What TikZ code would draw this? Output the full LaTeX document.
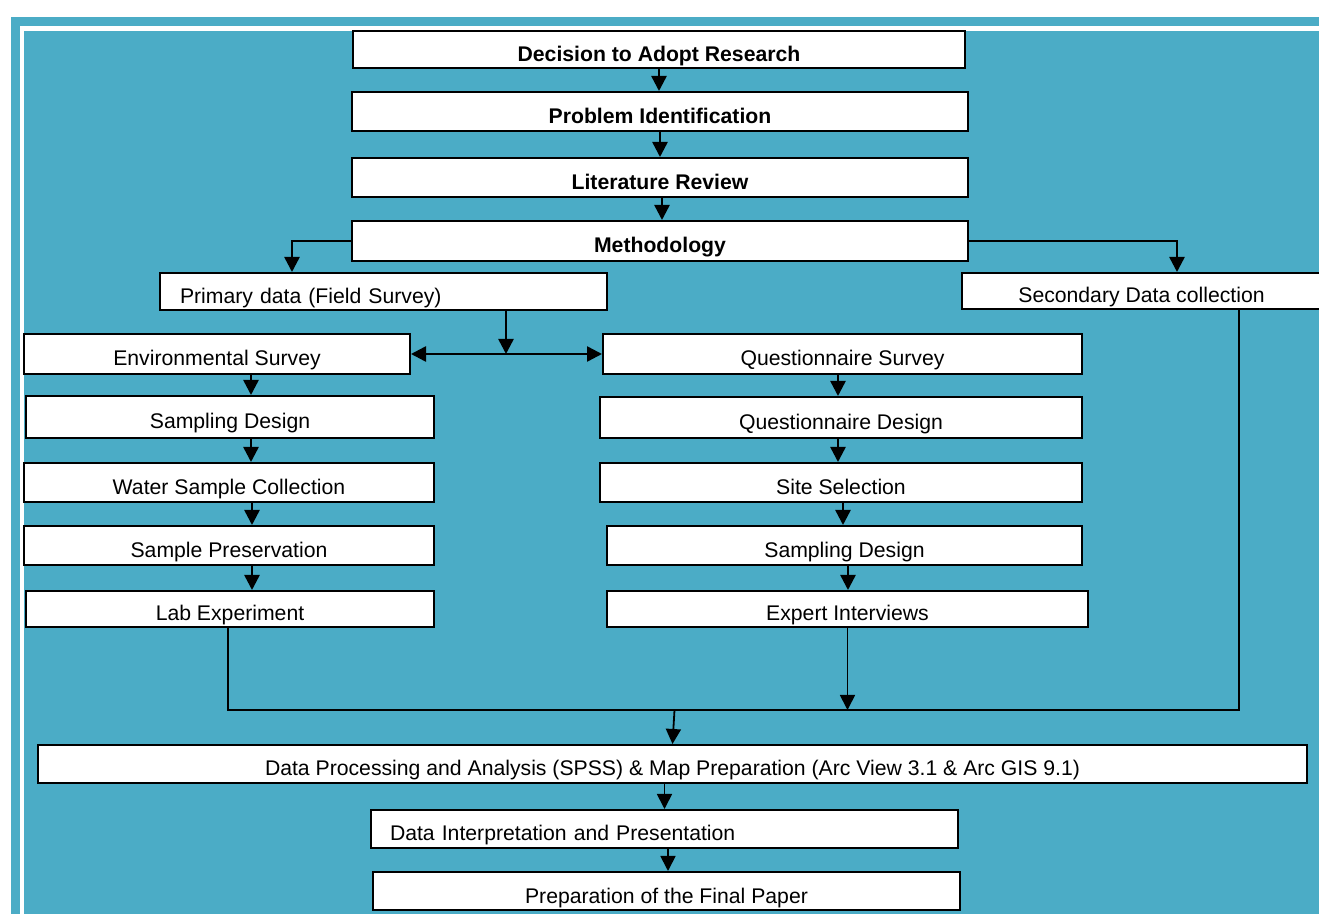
\documentclass[tikz,border=0pt]{standalone}
\usepackage{fontspec}
\setmainfont{Liberation Sans}
\usepackage{tikz}
\usetikzlibrary{arrows.meta}
\definecolor{aqua}{RGB}{75,172,198}

\begin{document}
\begin{tikzpicture}[x=0.5pt,y=-0.5pt,
  box/.style={draw,fill=white,line width=1pt,inner sep=0pt,
    text height=12.5pt,text depth=0.5pt,
    font=\fontsize{10.6pt}{12.7pt}\selectfont},
  bbox/.style={box,font=\fontsize{10.6pt}{12.7pt}\selectfont\bfseries},
  arr/.style={-{Triangle[length=7.5pt,width=7.5pt]},line width=1.25pt},
  ln/.style={line width=0.8pt}]
\useasboundingbox (0,0) rectangle (1319,914);
\fill[white] (0,0) rectangle (1319,914);
\fill[aqua] (11,17) rectangle (1330,930);
\fill[white] (19.5,26) rectangle (1330,930);
\fill[aqua] (24,31) rectangle (1330,930);

\node [bbox,minimum width=306pt,minimum height=18.5pt] (dec) at (659,49.5) {Decision to Adopt Research};
\node [bbox,minimum width=308pt,minimum height=19.5pt] (prob) at (660,111.5) {Problem Identification};
\node [bbox,minimum width=308pt,minimum height=19.5pt] (lit) at (660,177.5) {Literature Review};
\node [bbox,minimum width=308pt,minimum height=20pt] (meth) at (660,241) {Methodology};
\node [box,inner xsep=10pt,text width=203.5pt,align=left,minimum height=18.5pt] (prim) at (383.5,291.5) {Primary data (Field Survey)};
\node [box,minimum width=179.5pt,minimum height=18pt] (sec) at (1141.5,291) {Secondary Data collection};

\node [box,minimum width=193pt,minimum height=20pt] (env) at (217,354) {Environmental Survey};
\node [box,minimum width=204pt,minimum height=21pt] (sdl) at (230,417) {Sampling Design};
\node [box,minimum width=205pt,minimum height=19.5pt] (wat) at (229,482.5) {Water Sample Collection};
\node [box,minimum width=205pt,minimum height=19.5pt] (pres) at (229,545.5) {Sample Preservation};
\node [box,minimum width=204pt,minimum height=18pt] (lab) at (230,609) {Lab Experiment};

\node [box,minimum width=239.5pt,minimum height=20pt] (qs) at (842.5,354) {Questionnaire Survey};
\node [box,minimum width=241pt,minimum height=20.5pt] (qd) at (841,417.5) {Questionnaire Design};
\node [box,minimum width=241pt,minimum height=19.5pt] (site) at (841,482.5) {Site Selection};
\node [box,minimum width=237.5pt,minimum height=19.5pt] (sdr) at (844.5,545.5) {Sampling Design};
\node [box,minimum width=240.5pt,minimum height=18pt] (exp) at (847.5,609) {Expert Interviews};

\node [box,minimum width=634.5pt,minimum height=19pt] (dp) at (672.5,764) {Data Processing and Analysis (SPSS) \& Map Preparation (Arc View 3.1 \& Arc GIS 9.1)};
\node [box,inner xsep=9.5pt,text width=274.5pt,align=left,minimum height=19pt] (di) at (664.5,829) {Data Interpretation and Presentation};
\node [box,minimum width=293.5pt,minimum height=19pt] (fin) at (666.5,891) {Preparation of the Final Paper};

\draw[arr] (dec.south) -- (dec.south |- prob.north);
\draw[arr] (prob.south) -- (prob.south |- lit.north);
\draw[arr] ([xshift=1pt]lit.south) -- ([xshift=1pt]lit.south |- meth.north);
\draw[arr] (meth.west) -| ([xshift=-45.75pt]prim.north);
\draw[arr] (meth.east) -| ([xshift=17.75pt]sec.north);
\draw[arr] ([xshift=61.25pt]prim.south) -- ([xshift=61.25pt]prim.south |- env.east);
\draw[{Triangle[length=7.5pt,width=7.5pt]}-{Triangle[length=7.5pt,width=7.5pt]},line width=1.25pt] (env.east) -- (qs.west);

\draw[arr] ([xshift=17pt]env.south) -- ([xshift=17pt]env.south |- sdl.north);
\draw[arr] ([xshift=10.5pt]sdl.south) -- ([xshift=10.5pt]sdl.south |- wat.north);
\draw[arr] ([xshift=11.5pt]wat.south) -- ([xshift=11.5pt]wat.south |- pres.north);
\draw[arr] ([xshift=11.5pt]pres.south) -- ([xshift=11.5pt]pres.south |- lab.north);

\draw[arr] ([xshift=-2.25pt]qs.south) -- ([xshift=-2.25pt]qs.south |- qd.north);
\draw[arr] ([xshift=-1.5pt]qd.south) -- ([xshift=-1.5pt]qd.south |- site.north);
\draw[arr] ([xshift=1pt]site.south) -- ([xshift=1pt]site.south |- sdr.north);
\draw[arr] ([xshift=1.75pt]sdr.south) -- ([xshift=1.75pt]sdr.south |- exp.north);

\draw[ln] ([xshift=-1pt]lab.south) -- ++(0,82) coordinate (bl) -| ([xshift=48.75pt]sec.south);
\draw[arr,line width=0.9pt] (exp.south) -- (exp.south |- bl);
\draw[arr,line width=0.9pt] ([xshift=1pt]dp.north |- bl) -- (dp.north);
\draw[arr,line width=0.9pt] (di.north |- dp.south) -- (di.north);
\draw[arr,line width=0.9pt] ([xshift=0.75pt]fin.north |- di.south) -- ([xshift=0.75pt]fin.north);
\end{tikzpicture}
\end{document}
